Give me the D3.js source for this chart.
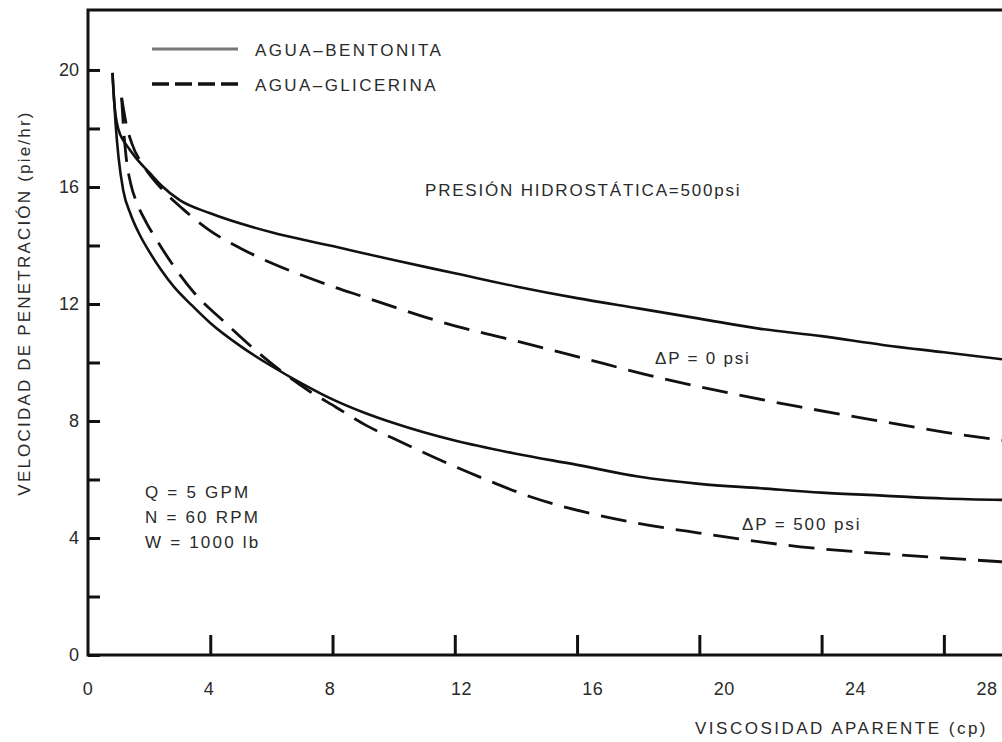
<!DOCTYPE html>
<html>
<head>
<meta charset="utf-8">
<script src="https://cdn.jsdelivr.net/npm/d3@7"></script>
<style>
  html, body { margin: 0; padding: 0; background: #fff; }
  text { font-family: Arial, "Liberation Sans", sans-serif; fill: #2a2a2a; }
</style>
</head>
<body>
<div id="chart"></div>
<script>
// viscosity (cp) vs penetration rate (pie/hr)
var bentonitaP0 = [[0.8,19.9],[0.85,19.0],[0.91,18.4],[1.0,17.95],[1.15,17.6],[1.35,17.3],[1.6,16.95],[2.0,16.5],
  [2.4,16.05],[3.0,15.55],[4,15.1],[6,14.45],[8,13.98],[10,13.5],[12,13.05],[14,12.6],[16,12.2],[18,11.85],
  [20,11.5],[22,11.15],[24,10.9],[26,10.6],[28,10.35],[30,10.1]];
var bentonitaP500 = [[0.8,19.9],[0.9,18.2],[1.0,17.0],[1.15,15.9],[1.4,15.05],[1.7,14.35],[2.0,13.8],[2.4,13.15],
  [2.8,12.6],[3.4,11.95],[4,11.35],[5,10.55],[6,9.88],[7,9.28],[8,8.74],[9,8.3],[10,7.93],[12,7.33],[14,6.88],
  [16,6.5],[18,6.1],[20,5.85],[22,5.7],[24,5.55],[26,5.45],[28,5.35],[30,5.3]];
var glicerinaP0 = [[1.1,19.05],[1.26,18.1],[1.43,17.5],[1.86,16.65],[2.4,15.95],[3.1,15.25],[4,14.5],[5,13.9],
  [6,13.4],[7,12.98],[8,12.6],[9,12.25],[10,11.9],[11,11.56],[12,11.25],[13.6,10.84],[16,10.2],[18.6,9.5],
  [21,8.95],[23.3,8.48],[26,7.98],[28,7.62],[30,7.33]];
var glicerinaP500 = [[1.1,19.05],[1.17,17.9],[1.25,17.0],[1.4,16.1],[1.6,15.45],[1.9,14.8],[2.3,14.1],[2.8,13.3],
  [3.5,12.35],[4.5,11.35],[5.5,10.4],[6.4,9.64],[7.2,9.05],[8.1,8.48],[9.1,7.85],[10,7.4],[11.3,6.77],
  [13.25,5.9],[14.5,5.4],[16.2,4.9],[18,4.5],[20,4.17],[23.3,3.7],[26.6,3.42],[30,3.18]];

var xTicks = [4, 8, 12, 16, 20, 24, 28];
var xLabels = [0, 4, 8, 12, 16, 20, 24, 28];
var yTicks = [0, 2, 4, 6, 8, 10, 12, 14, 16, 18, 20];
var yLabels = [0, 4, 8, 12, 16, 20];

var width = 1002, height = 742;

var svg = d3.select("#chart").append("svg")
  .attr("width", width)
  .attr("height", height);

var x = d3.scaleLinear().domain([0, 30]).range([88, 1005]);
var y = d3.scaleLinear().domain([0, 22.05]).range([655, 10]);
// the printed numbers drift right of their ticks
var xLab = d3.scaleLinear().domain([0, 8, 28]).range([88, 330, 987]);

// frame
svg.append("rect")
  .attr("x", x(0)).attr("y", y(22.05))
  .attr("width", x(30) - x(0)).attr("height", y(0) - y(22.05))
  .attr("fill", "none").attr("stroke", "#111").attr("stroke-width", 3);

// ticks
var xAxis = svg.append("g")
  .attr("transform", "translate(0," + y(0) + ")")
  .call(d3.axisBottom(x).tickValues(xTicks).tickSize(-20).tickFormat(""));
xAxis.select(".domain").remove();
xAxis.selectAll("line").attr("stroke", "#111").attr("stroke-width", 3);

var yAxis = svg.append("g")
  .attr("transform", "translate(" + x(0) + ",0)")
  .call(d3.axisLeft(y).tickValues(yTicks).tickSize(-12).tickPadding(9)
    .tickFormat(function(d) { return yLabels.indexOf(d) >= 0 ? d : ""; }));
yAxis.select(".domain").remove();
yAxis.selectAll("line").attr("stroke", "#111").attr("stroke-width", 3);
yAxis.selectAll("text")
  .style("font-family", "Arial, 'Liberation Sans', sans-serif")
  .style("font-size", "18px").attr("fill", "#2a2a2a");

svg.append("g").selectAll("text")
  .data(xLabels)
  .enter().append("text")
  .attr("x", function(d) { return xLab(d); })
  .attr("y", 695)
  .attr("text-anchor", "middle")
  .style("font-size", "18px")
  .style("letter-spacing", "0.5px")
  .text(function(d) { return d; });

// curves
var line = d3.line()
  .x(function(d) { return x(d[0]); })
  .y(function(d) { return y(d[1]); })
  .curve(d3.curveMonotoneX);

var plot = svg.append("g");
[bentonitaP0, bentonitaP500].forEach(function(s) {
  plot.append("path").datum(s)
    .attr("d", line)
    .attr("fill", "none").attr("stroke", "#111").attr("stroke-width", 2.6);
});
[glicerinaP0, glicerinaP500].forEach(function(s) {
  plot.append("path").datum(s)
    .attr("d", line)
    .attr("fill", "none").attr("stroke", "#111").attr("stroke-width", 2.8)
    .attr("stroke-dasharray", "26,12");
});

// legend
svg.append("line").attr("x1", 152).attr("x2", 238).attr("y1", 49).attr("y2", 49)
  .attr("stroke", "#777").attr("stroke-width", 3);
svg.append("line").attr("x1", 152).attr("x2", 238).attr("y1", 84).attr("y2", 84)
  .attr("stroke", "#111").attr("stroke-width", 3.5).attr("stroke-dasharray", "17,6");

function label(tx, ty, s, size, spacing) {
  return svg.append("text")
    .attr("x", tx).attr("y", ty)
    .style("font-size", size + "px")
    .style("letter-spacing", spacing + "px")
    .text(s);
}

label(255, 56, "AGUA–BENTONITA", 17, 2.5);
label(255, 91, "AGUA–GLICERINA", 17, 2.4);
label(425, 196, "PRESIÓN HIDROSTÁTICA=500psi", 17, 1.8);
label(655, 364, "ΔP = 0 psi", 17, 1.8);
label(742, 530, "ΔP = 500 psi", 17, 1.9);
label(145, 498, "Q = 5 GPM", 17, 2.2);
label(145, 523, "N = 60 RPM", 17, 2.2);
label(145, 548, "W = 1000 lb", 17, 2.2);
label(695, 734, "VISCOSIDAD APARENTE (cp)", 17, 2.5);

svg.append("text")
  .attr("transform", "translate(30,303) rotate(-90)")
  .attr("text-anchor", "middle")
  .style("font-size", "17px")
  .style("letter-spacing", "2.2px")
  .text("VELOCIDAD DE PENETRACIÓN (pie/hr)");
</script>
</body>
</html>
